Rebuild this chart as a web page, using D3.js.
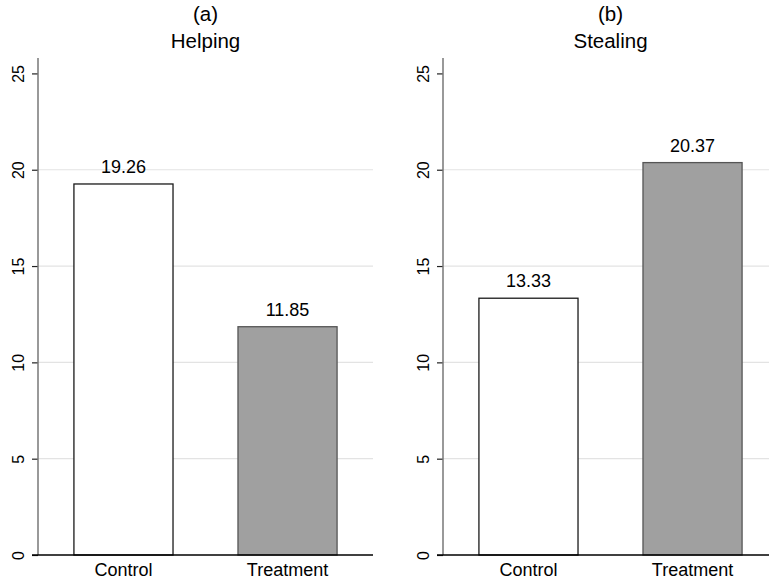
<!DOCTYPE html>
<html><head><meta charset="utf-8">
<script src="https://cdn.jsdelivr.net/npm/d3@7"></script>
<style>
html,body{margin:0;padding:0;background:#fff;}
text{font-family:"Liberation Sans",Arial,Helvetica,sans-serif;fill:#000;}
</style></head>
<body>
<svg id="chart" width="769" height="579"></svg>
<script>
const categories = ["Control", "Treatment"];
const panelLetters = ["(a)", "(b)"];
const panelTitles = ["Helping", "Stealing"];
const helpingValues = [19.26, 11.85];
const stealingValues = [13.33, 20.37];
const yTicks = [0, 5, 10, 15, 20, 25];
const yMax = 25.8;

(function () {
const panels = [
  {letter: panelLetters[0], title: panelTitles[0], values: helpingValues, x0: 38},
  {letter: panelLetters[1], title: panelTitles[1], values: stealingValues, x0: 443}
];
const plotW = 335, plotTop = 58, plotBottom = 555;
const fills = ["#ffffff", "#a0a0a0"];
const strokes = ["#1a1a1a", "#555555"];

const svg = d3.select("#chart");

panels.forEach(p => {
  const g = svg.append("g").attr("transform", `translate(${p.x0},0)`);
  const x = d3.scaleBand().domain(categories).range([0, plotW]).paddingInner(0.396).paddingOuter(0.219);
  const y = d3.scaleLinear().domain([0, yMax]).range([plotBottom, plotTop]);

  // gridlines
  g.selectAll(".grid").data(yTicks.filter(t => t > 0 && t < 25)).enter().append("line")
    .attr("x1", 0).attr("x2", plotW)
    .attr("y1", d => y(d)).attr("y2", d => y(d))
    .attr("stroke", "#e3e3e3").attr("stroke-width", 1.2);

  // bars
  g.selectAll(".bar").data(p.values).enter().append("rect")
    .attr("x", (d, i) => x(categories[i]))
    .attr("y", d => y(d))
    .attr("width", x.bandwidth())
    .attr("height", d => y(0) - y(d))
    .attr("fill", (d, i) => fills[i])
    .attr("stroke", (d, i) => strokes[i])
    .attr("stroke-width", 1.3);

  // value labels
  g.selectAll(".val").data(p.values).enter().append("text")
    .attr("x", (d, i) => x(categories[i]) + x.bandwidth() / 2)
    .attr("y", d => y(d) - 11)
    .attr("text-anchor", "middle")
    .style("font-size", "18px")
    .text(d => d.toFixed(2));

  // y axis
  const yAxis = d3.axisLeft(y).tickValues(yTicks).tickSize(6).tickFormat(d3.format("d"));
  const ya = g.append("g").call(yAxis);
  ya.select(".domain").remove();
  ya.selectAll(".tick line").attr("stroke", "#222").attr("stroke-width", 1.2);
  ya.selectAll(".tick text")
    .attr("transform", "rotate(-90)")
    .attr("x", 0).attr("y", -14).attr("dy", 0)
    .attr("text-anchor", "middle")
    .style("font-size", "16px").style("font-family", '"Liberation Sans",Arial,sans-serif')
    .attr("fill", "#000");
  g.append("line").attr("x1", 0).attr("x2", 0).attr("y1", plotTop).attr("y2", plotBottom)
    .attr("stroke", "#777").attr("stroke-width", 1.5);

  // x axis
  const xAxis = d3.axisBottom(x).tickSize(0);
  const xa = g.append("g").attr("transform", `translate(0,${plotBottom})`).call(xAxis);
  xa.select(".domain").remove();
  xa.selectAll(".tick text").attr("y", 21).attr("dy", 0)
    .style("font-size", "18px").style("font-family", '"Liberation Sans",Arial,sans-serif')
    .attr("fill", "#000");
  g.append("line").attr("x1", -6).attr("x2", plotW).attr("y1", plotBottom).attr("y2", plotBottom)
    .attr("stroke", "#000").attr("stroke-width", 1.3);

  // titles
  g.append("text").attr("x", plotW / 2).attr("y", 21).attr("text-anchor", "middle")
    .style("font-size", "20.5px").text(p.letter);
  g.append("text").attr("x", plotW / 2).attr("y", 48).attr("text-anchor", "middle")
    .style("font-size", "20.5px").text(p.title);
});
})();
</script>
</body></html>
